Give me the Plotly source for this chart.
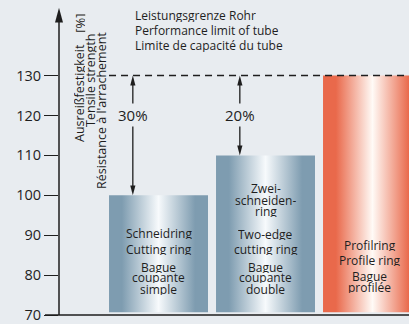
import plotly.graph_objects as go

# ---- data -------------------------------------------------------------
categories = ["Schneidring", "Zweischneidenring", "Profilring"]
strength = [100, 110, 130]          # tensile strength in % (relative)
tube_limit = 130                     # performance limit of tube
bar_labels = [
    [("Schneidring", 90.5), ("Cutting ring", 86.5), ("Bague", 82.0),
     ("coupante", 79.3), ("simple", 76.3)],
    [("Zwei-", 101.6), ("schneiden-", 98.8), ("ring", 95.9),
     ("Two-edge", 90.3), ("cutting ring", 86.5), ("Bague", 82.0),
     ("coupante", 79.3), ("double", 76.3)],
    [("Profilring", 87.5), ("Profile ring", 83.6), ("Bague", 79.7),
     ("profilée", 76.8)],
]
y_ticks = [70, 80, 90, 100, 110, 120, 130]
axis_title = ["Ausreißfestigkeit", "Tensile strength", "Résistance à l'arrachement"]
limit_text = ["Leistungsgrenze Rohr", "Performance limit of tube",
              "Limite de capacité du tube"]

# ---- style ------------------------------------------------------------
BG = "#e8ecf0"
INK = "#1e1e1e"
FONT = "Open Sans"
BLUE = "#7e9cb0"
ORANGE = "#e9694b"
W, H = 409, 324
ML, MB = 59, 4
X0, X1 = -0.93, 2.341          # x-axis range (category units)
Y0, Y1 = 70, 148.95            # y-axis range
BAR_W = 0.925
BAR_BASE = 70.7

px_x = (W - ML) / (X1 - X0)    # pixels per category unit
px_y = (H - MB) / (Y1 - Y0)    # pixels per percent


def grad(edge, mid):
    return [[0, edge], [0.13, edge], [0.5, mid], [0.87, edge], [1, edge]]


bar_colors = [grad(BLUE, "#f7fafc"), grad(BLUE, "#f7fafc"), grad(ORANGE, "#fffaf6")]

fig = go.Figure()

# bars with horizontal gradient fill
for i, v in enumerate(strength):
    xl, xr = i - BAR_W / 2, i + BAR_W / 2
    fig.add_trace(go.Scatter(
        x=[xl, xl, xr, xr, xl], y=[BAR_BASE, v, v, BAR_BASE, BAR_BASE],
        mode="lines", line=dict(width=0), fill="toself",
        fillgradient=dict(type="horizontal", colorscale=bar_colors[i]),
        hoverinfo="skip", showlegend=False, name=categories[i]))

shapes = []
annotations = []


def tri(xc, ytip, up):
    """Narrow arrowhead path (tip at ytip)."""
    L = 10 / px_y
    hw = 2.6 / px_x
    yb = ytip - L if up else ytip + L
    return dict(type="path", xref="x", yref="y", layer="above",
                path=f"M {xc - hw},{yb} L {xc},{ytip} L {xc + hw},{yb} Z",
                fillcolor=INK, line=dict(width=0))


# vertical axis line with arrowhead
AX_TIP = 147.0
shapes.append(dict(type="line", xref="paper", yref="y", x0=0, x1=0,
                   y0=Y0, y1=AX_TIP - 12 / px_y, line=dict(color=INK, width=1.5),
                   layer="above"))
hw_ax = 4 / (W - ML)
L_ax = 15 / px_y
shapes.append(dict(type="path", xref="paper", yref="y", layer="above",
                   path=f"M {-hw_ax},{AX_TIP - L_ax} L 0,{AX_TIP} L {hw_ax},{AX_TIP - L_ax} Z",
                   fillcolor=INK, line=dict(width=0)))

# baseline
shapes.append(dict(type="line", xref="paper", yref="paper", x0=-14 / (W - ML), x1=1,
                   y0=0, y1=0, line=dict(color=INK, width=1.5), layer="above"))

# performance limit (dashed)
shapes.append(dict(type="line", xref="x", yref="y", x0=-BAR_W / 2, x1=X1 + 0.5,
                   y0=tube_limit, y1=tube_limit,
                   line=dict(color=INK, width=1.5, dash="7px,5px"), layer="above"))

# gap arrows between bar top and tube limit
ARROW_DX = -0.24
for i, v in enumerate(strength):
    if v >= tube_limit:
        continue
    xa = i + ARROW_DX
    L = 10 / px_y
    shapes.append(dict(type="line", xref="x", yref="y", x0=xa, x1=xa,
                       y0=v + L * 0.8, y1=tube_limit - L * 0.8,
                       line=dict(color=INK, width=1.3), layer="above"))
    shapes.append(tri(xa, tube_limit, True))
    shapes.append(tri(xa, v, False))
    annotations.append(dict(x=xa, y=120.2, xref="x", yref="y",
                            text=f"{tube_limit - v:.0f}%", showarrow=False,
                            bgcolor=BG, borderpad=1,
                            font=dict(family=FONT, size=15, color=INK)))

# text inside bars (compact line spacing via fixed box height)
for i, lines in enumerate(bar_labels):
    xc = i if i < 2 else i - 0.025
    for txt, yv in lines:
        annotations.append(dict(x=xc, y=yv, xref="x", yref="y", text=txt,
                                showarrow=False, height=11, valign="middle",
                                font=dict(family=FONT, size=12, color=INK)))

# limit legend text
for k, txt in enumerate(limit_text):
    annotations.append(dict(x=ARROW_DX, y=145.0 - k * 15 / px_y, xref="x", yref="y",
                            text=txt, showarrow=False, xanchor="left", height=13,
                            font=dict(family=FONT, size=12, color=INK)))

# rotated axis title
title_cols = [(X0 + 20.5 / px_x, 138.3), (X0 + 31.7 / px_x, 141.0),
              (X0 + 42.7 / px_x, 141.5)]
for txt, (xc, ytop) in zip(axis_title, title_cols):
    annotations.append(dict(x=xc, y=ytop, xref="x", yref="y", text=txt,
                            textangle=-90, showarrow=False, yanchor="top",
                            height=11,
                            font=dict(family=FONT, size=12.5, color=INK)))
annotations.append(dict(x=title_cols[0][0], y=146.0, xref="x", yref="y", text="[%]",
                        textangle=-90, showarrow=False, yanchor="top", height=11,
                        font=dict(family=FONT, size=13, color=INK)))

fig.update_layout(
    width=W, height=H,
    margin=dict(l=ML, r=0, t=0, b=MB, pad=0),
    paper_bgcolor=BG, plot_bgcolor=BG,
    shapes=shapes, annotations=annotations,
    showlegend=False,
    xaxis=dict(range=[X0, X1], visible=False, fixedrange=True),
    yaxis=dict(range=[Y0, Y1], tickvals=y_ticks, ticks="outside", ticklen=14,
               tickwidth=1.3, tickcolor=INK, showgrid=False, zeroline=False,
               showline=False, fixedrange=True, ticklabeloverflow="allow",
               tickfont=dict(family=FONT, size=14.5, color=INK)),
)

fig.write_html("out.html")
